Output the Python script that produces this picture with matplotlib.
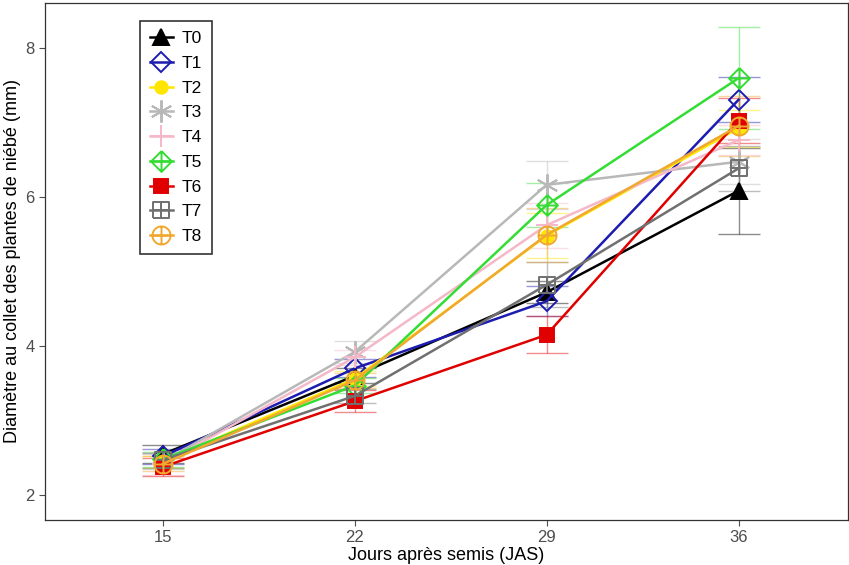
import matplotlib.pyplot as plt
import numpy as np
from matplotlib.path import Path

plt.rcParams["font.family"] = ["Liberation Sans", "DejaVu Sans"]

# data
days = [15, 22, 29, 36]
treatments = ["T0", "T1", "T2", "T3", "T4", "T5", "T6", "T7", "T8"]

T0 = [2.55, 3.60, 4.72, 6.08]
T1 = [2.52, 3.70, 4.60, 7.30]
T2 = [2.45, 3.56, 5.48, 6.92]
T3 = [2.45, 3.92, 6.16, 6.47]
T4 = [2.42, 3.85, 5.62, 6.76]
T5 = [2.48, 3.47, 5.89, 7.59]
T6 = [2.38, 3.26, 4.15, 7.02]
T7 = [2.47, 3.33, 4.82, 6.38]
T8 = [2.42, 3.54, 5.49, 6.95]

T0_se = [0.12, 0.10, 0.15, 0.58]
T1_se = [0.10, 0.12, 0.20, 0.30]
T2_se = [0.08, 0.10, 0.30, 0.25]
T3_se = [0.10, 0.15, 0.32, 0.30]
T4_se = [0.15, 0.10, 0.30, 0.20]
T5_se = [0.10, 0.10, 0.30, 0.68]
T6_se = [0.12, 0.15, 0.25, 0.30]
T7_se = [0.10, 0.10, 0.30, 0.30]
T8_se = [0.10, 0.10, 0.36, 0.40]

means = [T0, T1, T2, T3, T4, T5, T6, T7, T8]
errors = [T0_se, T1_se, T2_se, T3_se, T4_se, T5_se, T6_se, T7_se, T8_se]


def cross_marker(shape):
    # outline shape with a plus inside (ggplot shapes 9, 10, 12)
    if shape == "diamond":
        outline = [(0, 1), (1, 0), (0, -1), (-1, 0), (0, 1)]
    elif shape == "square":
        outline = [(-1, -1), (1, -1), (1, 1), (-1, 1), (-1, -1)]
    else:
        t = np.linspace(0, 2 * np.pi, 41)
        outline = list(zip(np.cos(t), np.sin(t)))
    verts = outline + [(-1, 0), (1, 0), (0, -1), (0, 1)]
    codes = [Path.MOVETO] + [Path.LINETO] * (len(outline) - 1)
    codes += [Path.MOVETO, Path.LINETO, Path.MOVETO, Path.LINETO]
    return Path(verts, codes)


styles = {
    "T0": dict(color="black", marker="^", ms=11, mfc="black"),
    "T1": dict(color="#1c1cb0", marker="D", ms=10, mfc="none"),
    "T2": dict(color="#ffe600", marker="o", ms=9, mfc="#ffe600"),
    "T3": dict(color="#b8b8b8", marker=(6, 2, 0), ms=16, mfc="none"),
    "T4": dict(color="#f5b8c8", marker="+", ms=16, mfc="none"),
    "T5": dict(color="#33dd33", marker=cross_marker("diamond"), ms=15, mfc="none"),
    "T6": dict(color="#e00000", marker="s", ms=10, mfc="#e00000"),
    "T7": dict(color="#707070", marker=cross_marker("square"), ms=11, mfc="none"),
    "T8": dict(color="#f0a830", marker=cross_marker("circle"), ms=13, mfc="none"),
}

fig = plt.figure(figsize=(8.49, 5.65), dpi=100)
ax = fig.add_axes([0.053, 0.080, 0.946, 0.915])

for name, y, se in zip(treatments, means, errors):
    st = styles[name]
    ax.errorbar(days, y, yerr=se, fmt="none", ecolor=st["color"],
                elinewidth=1.0, capsize=15, capthick=1.0, alpha=0.45, zorder=2)
    ax.plot(days, y, color=st["color"], linewidth=1.8, marker=st["marker"],
            markersize=st["ms"], markerfacecolor=st["mfc"],
            markeredgecolor=st["color"], markeredgewidth=1.4,
            label=name, zorder=3)

ax.set_xlim(10.7, 40.0)
ax.set_ylim(1.67, 8.6)
ax.set_xticks(days)
ax.set_yticks([2, 4, 6, 8])
ax.tick_params(colors="#4d4d4d", labelsize=12, length=4, width=0.8)
for s in ax.spines.values():
    s.set_linewidth(0.9)
    s.set_color("#333333")

ax.set_xlabel("Jours après semis (JAS)", fontsize=13, labelpad=1)
ax.set_ylabel("Diamètre au collet des plantes de niébé (mm)", fontsize=13, labelpad=3)

leg = ax.legend(loc="upper left", bbox_to_anchor=(0.107, 0.982), fontsize=12.5,
                frameon=True, fancybox=False, edgecolor="black", handlelength=1.3,
                labelspacing=0.55, borderpad=0.6, handletextpad=0.5)
leg.get_frame().set_linewidth(1.2)

fig.savefig("out.png", dpi=100)
